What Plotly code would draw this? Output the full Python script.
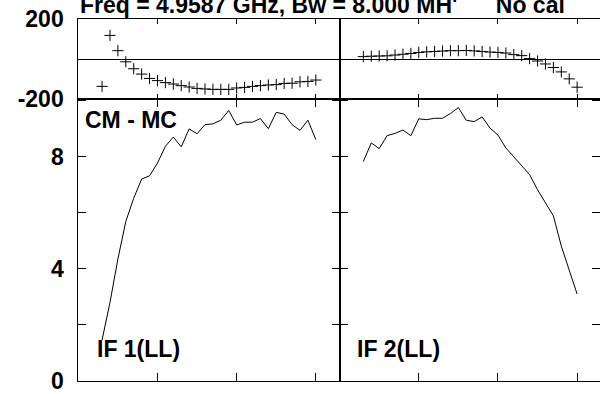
import plotly.graph_objects as go

# ---- data ----
channels = [3, 4, 5, 6, 7, 8, 9, 10, 11, 12, 13, 14, 15, 16, 17, 18, 19, 20,
            21, 22, 23, 24, 25, 26, 27, 28, 29, 30]

phase_if1 = [-138, 119, 42, -14, -49, -76, -98, -109, -119, -126, -134, -141,
             -148, -151, -153, -153, -153, -146, -143, -138, -134, -131, -129,
             -123, -122, -115, -113, -106]
phase_if2 = [12, 14, 15, 16, 20, 24, 28, 33, 36, 38, 40, 42, 42, 43, 41, 38,
             35, 33, 30, 22, 17, 2, -10, -25, -43, -65, -100, -142]

amp_if1 = [1.46, 2.8, 4.35, 5.69, 6.52, 7.20, 7.32, 7.77, 8.37, 8.70, 8.35,
           8.99, 8.82, 9.14, 9.17, 9.30, 9.65, 9.13, 9.23, 9.23, 9.36, 9.00,
           9.58, 9.52, 9.14, 8.94, 9.30, 8.61]
amp_if2 = [7.83, 8.49, 8.29, 8.75, 8.83, 8.95, 8.75, 9.35, 9.32, 9.37, 9.37,
           9.54, 9.75, 9.30, 9.25, 9.42, 9.02, 8.77, 8.31, 7.99, 7.68, 7.36,
           6.82, 6.35, 5.89, 4.81, 3.99, 3.10]

phase_ticks = [-200, 0, 200]
phase_ticktext = ["-200", "", "200"]
amp_ticks = [0, 2, 4, 6, 8, 10]
amp_ticktext = ["0", "", "4", "", "8", ""]
chan_ticks = [10, 20, 30]

NB = "\u00a0"
title_text = "Freq = 4.9587 GHz, Bw = 8.000 MH'" + NB * 6 + "No cal"
label_cm = "CM - MC"
label_if1 = "IF 1(LL)"
label_if2 = "IF 2(LL)"

# ---- layout geometry ----
W, H = 600, 394
FONT = "Liberation Sans, Arial, Helvetica, sans-serif"
FS = 23

def px(x):
    return x / W

def py(y):
    return 1 - y / H

xl0, xmid, xr1 = 78.3, 339.6, 600.0
y_top, y_mid, y_bot = 19.3, 98.7, 381.0
px_per_chan = 7.918

fig = go.Figure()

line_style = dict(color="black", width=1)
marker_style = dict(symbol="cross-thin", size=8, line=dict(color="black", width=1), color="black")

fig.add_trace(go.Scatter(x=channels, y=phase_if1, mode="markers", marker=marker_style,
                         xaxis="x", yaxis="y", showlegend=False, hoverinfo="skip"))
fig.add_trace(go.Scatter(x=channels, y=phase_if2, mode="markers", marker=marker_style,
                         xaxis="x2", yaxis="y2", showlegend=False, hoverinfo="skip"))
fig.add_trace(go.Scatter(x=channels, y=amp_if1, mode="lines", line=line_style,
                         xaxis="x3", yaxis="y3", showlegend=False, hoverinfo="skip"))
fig.add_trace(go.Scatter(x=channels, y=amp_if2, mode="lines", line=line_style,
                         xaxis="x4", yaxis="y4", showlegend=False, hoverinfo="skip"))

left_range = [0, (xmid - xl0) / px_per_chan]
right_range = [0, (xr1 - xmid) / px_per_chan]
amp_top = (y_bot - y_mid) / 28.04

common = dict(showline=True, linecolor="black", linewidth=1, mirror="ticks",
              ticks="inside", tickcolor="black", tickwidth=1, showgrid=False,
              zeroline=False, fixedrange=True, automargin=False)

def xax(dom, rng, anchor, tl):
    return dict(common, domain=dom, range=rng, anchor=anchor, tickvals=chan_ticks,
                ticklen=tl, showticklabels=False)

tickfont = dict(family=FONT, size=FS, color="black", weight="bold")

def yax(dom, rng, anchor, vals, text, labels, zl=False):
    d = dict(common, domain=dom, range=rng, anchor=anchor, tickvals=vals, ticktext=text,
             ticklen=8, showticklabels=labels, tickfont=tickfont, ticklabelstandoff=9,
             ticklabeloverflow="allow")
    if zl:
        d.update(zeroline=True, zerolinecolor="black", zerolinewidth=1)
    return d

dx_left = [px(xl0), px(xmid)]
dx_right = [px(xmid), 1.0]
dy_phase = [py(y_mid), py(y_top)]
dy_amp = [py(y_bot), py(y_mid)]

fig.update_layout(
    template="none",
    width=W, height=H,
    margin=dict(l=0, r=0, t=0, b=0, pad=0, autoexpand=False),
    paper_bgcolor="white", plot_bgcolor="white",
    hovermode=False,
    xaxis=xax(dx_left, left_range, "y", 5),
    xaxis2=xax(dx_right, right_range, "y2", 5),
    xaxis3=xax(dx_left, left_range, "y3", 8),
    xaxis4=xax(dx_right, right_range, "y4", 8),
    yaxis=yax(dy_phase, [-200, 200], "x", phase_ticks, phase_ticktext, True, zl=True),
    yaxis2=yax(dy_phase, [-200, 200], "x2", phase_ticks, phase_ticktext, False, zl=True),
    yaxis3=yax(dy_amp, [0, amp_top], "x3", amp_ticks, amp_ticktext, True),
    yaxis4=yax(dy_amp, [0, amp_top], "x4", amp_ticks, amp_ticktext, False),
)

ann_font = dict(family=FONT, size=FS, color="black", weight="bold")
annots = [
    (title_text, 79, 19, "bottom"),
    (label_cm, 84, 120, "middle"),
    (label_if1, 96, 349, "middle"),
    (label_if2, 356, 349, "middle"),
]
for txt, ax, ay, yanc in annots:
    fig.add_annotation(text=txt, xref="paper", yref="paper", x=px(ax), y=py(ay),
                       xanchor="left", yanchor=yanc, showarrow=False, font=ann_font,
                       borderpad=0)

fig.write_html("out.html", config={"displayModeBar": False, "staticPlot": True},
               post_script="document.body.style.margin='0px';")
